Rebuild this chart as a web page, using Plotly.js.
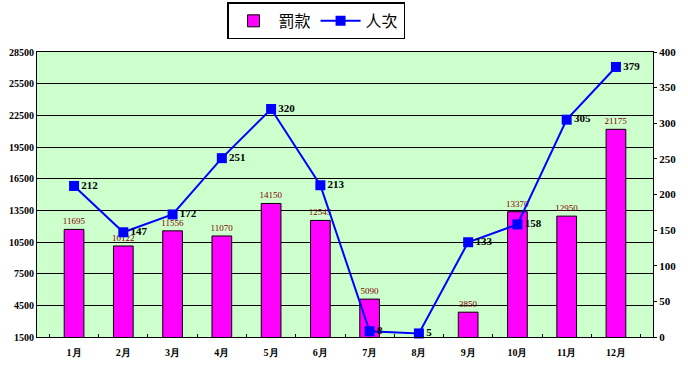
<!DOCTYPE html>
<html><head><meta charset="utf-8">
<script src="https://cdn.plot.ly/plotly-3.0.1.min.js"></script>
<style>body{margin:0;padding:0;background:#fff}#c{width:688px;height:365px}</style>
</head><body><div id="c"></div>
<script>
const months = ['1月','2月','3月','4月','5月','6月','7月','8月','9月','10月','11月','12月'];
const fines = [11695, 10122, 11556, 11070, 14150, 12545, 5090, null, 3850, 13370, 12950, 21175];
const persons = [212, 147, 172, 251, 320, 213, 8, 5, 133, 158, 305, 379];
const leftTicks = [1500, 4500, 7500, 10500, 13500, 16500, 19500, 22500, 25500, 28500];
const rightTicks = [0, 50, 100, 150, 200, 250, 300, 350, 400];

const fnt = 'Liberation Serif, DejaVu Serif, serif';
const traces = [
  {type:'bar', name:'罰款', x:months, y:fines, yaxis:'y',
   marker:{color:'#FF00FF', line:{color:'#000', width:1}},
   text:fines.map(v=>v==null?'':String(v)), textposition:'outside', cliponaxis:false,
   constraintext:'none',
   textfont:{color:'#800000', size:9, family:fnt}},
  {type:'scatter', mode:'lines+markers+text', name:'人次', x:months, y:persons, yaxis:'y2',
   line:{color:'#0000FF', width:2}, marker:{symbol:'square', size:10, color:'#0000FF'},
   text:persons.map(String), textposition:'middle right', cliponaxis:false,
   textfont:{color:'#000', size:11, family:fnt, weight:'bold'}}
];
const layout = {
  width:688, height:365,
  margin:{l:37, r:35, t:52, b:28, autoexpand:false},
  paper_bgcolor:'#fff', plot_bgcolor:'#CCFFCC',
  bargap:0.6,
  showlegend:true,
  legend:{orientation:'h', x:0.453, xanchor:'center', y:1.109, yanchor:'middle',
    bordercolor:'#000', borderwidth:1.5, bgcolor:'#fff',
    font:{size:16, family:'Noto Sans CJK TC, sans-serif', color:'#000'}, itemwidth:40},
  xaxis:{type:'category', showline:true, linecolor:'#000', linewidth:1, mirror:true,
    ticks:'inside', tickson:'boundaries', ticklen:3, tickcolor:'#000', ticklabelstandoff:6,
    tickfont:{size:10, family:fnt, color:'#000', weight:'bold'}, showgrid:false},
  yaxis:{range:[1500,28500], tickvals:leftTicks, ticktext:leftTicks.map(String),
    showline:true, linecolor:'#000', linewidth:1, showgrid:true, gridcolor:'#000', gridwidth:1,
    ticks:'', tickfont:{size:10, family:fnt, color:'#000', weight:'bold'}, zeroline:false},
  yaxis2:{range:[0,400], tickvals:rightTicks, overlaying:'y', side:'right',
    showline:true, linecolor:'#000', linewidth:1, showgrid:false, ticks:'outside', ticklen:3,
    tickcolor:'#000', tickfont:{size:11, family:fnt, color:'#000', weight:'bold'}, zeroline:false}
};
Plotly.newPlot('c', traces, layout, {displayModeBar:false, staticPlot:true});
</script></body></html>
